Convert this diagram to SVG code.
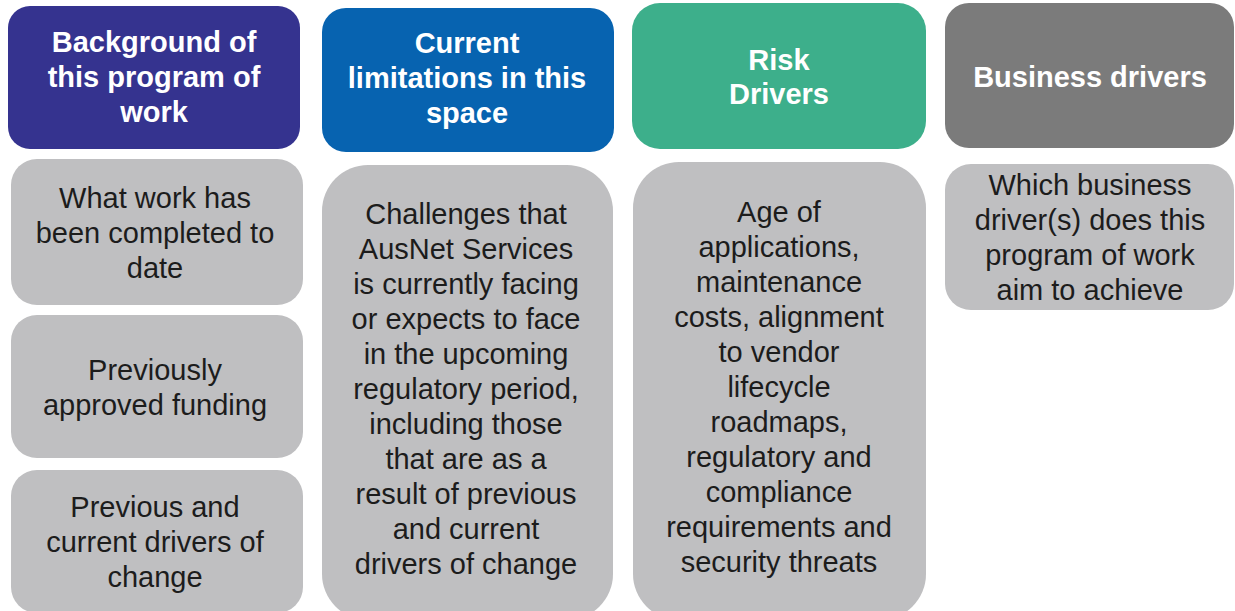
<svg xmlns="http://www.w3.org/2000/svg" width="1235" height="611" viewBox="0 0 1235 611">
  <style>
    .head { font-family: "Liberation Sans", Arial, sans-serif; font-size: 29px; font-weight: bold; fill: #ffffff; text-anchor: middle; }
    .body { font-family: "Liberation Sans", Arial, sans-serif; font-size: 29px; fill: #1c1c1c; text-anchor: middle; }
    .card { fill: #bfbfc1; }
  </style>
  <rect width="1235" height="611" fill="#ffffff"/>

  <!-- Column 1: background -->
  <g id="head-background">
    <rect x="8" y="6" width="292" height="143" rx="22" fill="#35338f"/>
    <text class="head" x="154" y="52">Background of</text>
    <text class="head" x="154" y="87">this program of</text>
    <text class="head" x="154" y="122">work</text>
  </g>
  <g id="card-work-done">
    <rect class="card" x="11" y="159" width="292" height="146" rx="26"/>
    <text class="body" x="155" y="208">What work has</text>
    <text class="body" x="155" y="243">been completed to</text>
    <text class="body" x="155" y="278">date</text>
  </g>
  <g id="card-funding">
    <rect class="card" x="11" y="315" width="292" height="143" rx="26"/>
    <text class="body" x="155" y="380">Previously</text>
    <text class="body" x="155" y="415">approved funding</text>
  </g>
  <g id="card-drivers-change">
    <rect class="card" x="11" y="470" width="292" height="143" rx="26"/>
    <text class="body" x="155" y="517">Previous and</text>
    <text class="body" x="155" y="552">current drivers of</text>
    <text class="body" x="155" y="587">change</text>
  </g>

  <!-- Column 2: current limitations -->
  <g id="head-limitations">
    <rect x="322" y="8" width="292" height="144" rx="24" fill="#0763b0"/>
    <text class="head" x="467" y="53">Current</text>
    <text class="head" x="467" y="88">limitations in this</text>
    <text class="head" x="467" y="123">space</text>
  </g>
  <g id="card-challenges">
    <rect class="card" x="322" y="165" width="291" height="455" rx="46"/>
    <text class="body" x="466" y="224">Challenges that</text>
    <text class="body" x="466" y="259">AusNet Services</text>
    <text class="body" x="466" y="294">is currently facing</text>
    <text class="body" x="466" y="329">or expects to face</text>
    <text class="body" x="466" y="364">in the upcoming</text>
    <text class="body" x="466" y="399">regulatory period,</text>
    <text class="body" x="466" y="434">including those</text>
    <text class="body" x="466" y="469">that are as a</text>
    <text class="body" x="466" y="504">result of previous</text>
    <text class="body" x="466" y="539">and current</text>
    <text class="body" x="466" y="574">drivers of change</text>
  </g>

  <!-- Column 3: risk drivers -->
  <g id="head-risk">
    <rect x="632" y="3" width="294" height="146" rx="28" fill="#3daf8b"/>
    <text class="head" x="779" y="70">Risk</text>
    <text class="head" x="779" y="104">Drivers</text>
  </g>
  <g id="card-risk">
    <rect class="card" x="633" y="162" width="293" height="458" rx="46"/>
    <text class="body" x="779" y="222">Age of</text>
    <text class="body" x="779" y="257">applications,</text>
    <text class="body" x="779" y="292">maintenance</text>
    <text class="body" x="779" y="327">costs, alignment</text>
    <text class="body" x="779" y="362">to vendor</text>
    <text class="body" x="779" y="397">lifecycle</text>
    <text class="body" x="779" y="432">roadmaps,</text>
    <text class="body" x="779" y="467">regulatory and</text>
    <text class="body" x="779" y="502">compliance</text>
    <text class="body" x="779" y="537">requirements and</text>
    <text class="body" x="779" y="572">security threats</text>
  </g>

  <!-- Column 4: business drivers -->
  <g id="head-business">
    <rect x="945" y="3" width="289" height="145" rx="24" fill="#7b7b7b"/>
    <text class="head" x="1090" y="87">Business drivers</text>
  </g>
  <g id="card-business">
    <rect class="card" x="945" y="164" width="289" height="146" rx="26"/>
    <text class="body" x="1090" y="195">Which business</text>
    <text class="body" x="1090" y="230">driver(s) does this</text>
    <text class="body" x="1090" y="265">program of work</text>
    <text class="body" x="1090" y="300">aim to achieve</text>
  </g>

  <!-- No connectors in this layout -->
  <g id="connectors"/>
</svg>
